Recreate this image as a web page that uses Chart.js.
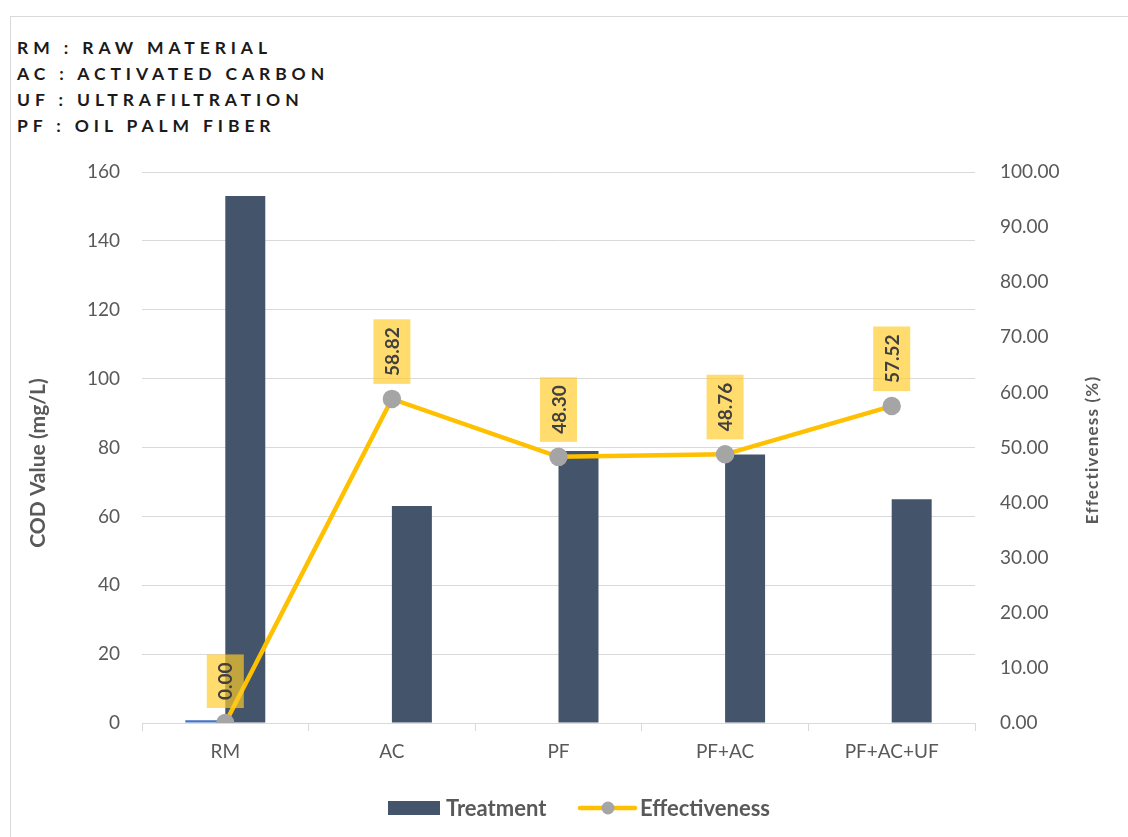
<!DOCTYPE html>
<html>
<head>
<meta charset="utf-8">
<script src="https://cdn.jsdelivr.net/npm/chart.js@4"></script>
<style>
  html, body { margin: 0; padding: 0; background: #fff; }
  #wrap { position: relative; width: 1128px; height: 837px; overflow: hidden; }
  #frame { position: absolute; left: 10px; top: 16px; width: 1200px; height: 900px; border: 1px solid #d9d9d9; }
  #notes { position: absolute; left: 17px; top: 35px; font: bold 17.5px Lato, "Open Sans", sans-serif;
           letter-spacing: 4.9px; line-height: 26px; color: #1a1a1a; }
  canvas { position: absolute; left: 0; top: 0; }
</style>
</head>
<body>
<div id="wrap">
  <div id="frame"></div>
  <div id="notes">
    <div>RM : RAW MATERIAL</div>
    <div>AC : ACTIVATED CARBON</div>
    <div>UF : ULTRAFILTRATION</div>
    <div>PF : OIL PALM FIBER</div>
  </div>
  <canvas id="chart" width="1128" height="837"></canvas>
</div>
<script>
// categories and series
const categories = ['RM', 'AC', 'PF', 'PF+AC', 'PF+AC+UF'];
const baseline = [0.8, 0, 0, 0, 0];
const treatment = [153, 63, 79, 78, 65];
const effectiveness = [0.00, 58.82, 48.30, 48.76, 57.52];

const FONT = 'Lato, "Open Sans", sans-serif';
const GREY = '#595959';

// rotated value boxes above the effectiveness points + axis titles + legend
const extras = {
  id: 'extras',
  afterDatasetsDraw(chart) {
    const ctx = chart.ctx;
    const meta = chart.getDatasetMeta(2);
    ctx.save();
    ctx.font = 'bold 19px ' + FONT;
    meta.data.forEach((pt, i) => {
      const txt = effectiveness[i].toFixed(2);
      const w = ctx.measureText(txt).width;
      const boxH = w + 16, boxW = 37;
      const bottom = pt.y - 15;
      ctx.fillStyle = 'rgba(255, 204, 40, 0.68)';
      ctx.fillRect(pt.x - boxW / 2, bottom - boxH, boxW, boxH);
      ctx.save();
      ctx.translate(pt.x, bottom - boxH / 2);
      ctx.rotate(-Math.PI / 2);
      ctx.fillStyle = '#404040';
      ctx.textAlign = 'center';
      ctx.textBaseline = 'middle';
      ctx.fillText(txt, 0, 1);
      ctx.restore();
    });
    ctx.restore();
  },
  afterDraw(chart) {
    const ctx = chart.ctx;
    ctx.save();
    ctx.textAlign = 'center';
    ctx.textBaseline = 'middle';
    // left axis title
    ctx.fillStyle = GREY;
    ctx.font = 'bold 21px ' + FONT;
    ctx.translate(38, 463);
    ctx.rotate(-Math.PI / 2);
    ctx.fillText('COD Value (mg/L)', 0, 0);
    ctx.restore();
    // right axis title
    ctx.save();
    ctx.textAlign = 'center';
    ctx.textBaseline = 'middle';
    ctx.fillStyle = GREY;
    ctx.font = 'bold 17px ' + FONT;
    ctx.letterSpacing = '1.2px';
    ctx.translate(1093, 450);
    ctx.rotate(-Math.PI / 2);
    ctx.fillText('Effectiveness (%)', 0, 0);
    ctx.restore();
    // legend
    ctx.save();
    ctx.font = 'bold 22px ' + FONT;
    ctx.textBaseline = 'middle';
    ctx.fillStyle = '#44546A';
    ctx.fillRect(388, 801, 52, 14);
    ctx.fillStyle = GREY;
    ctx.fillText('Treatment', 446, 809);
    ctx.strokeStyle = '#FFC000';
    ctx.lineWidth = 4.5;
    ctx.lineCap = 'round';
    ctx.beginPath();
    ctx.moveTo(580, 808);
    ctx.lineTo(635, 808);
    ctx.stroke();
    ctx.fillStyle = '#A5A5A5';
    ctx.beginPath();
    ctx.arc(608, 808, 6.5, 0, Math.PI * 2);
    ctx.fill();
    ctx.fillStyle = GREY;
    ctx.fillText('Effectiveness', 640, 809);
    ctx.restore();
  }
};

new Chart(document.getElementById('chart'), {
  data: {
    labels: categories,
    datasets: [
      { type: 'bar', label: 'Series1', data: baseline, backgroundColor: '#4472C4', yAxisID: 'y', order: 2 },
      { type: 'bar', label: 'Treatment', data: treatment, backgroundColor: '#44546A', yAxisID: 'y', order: 2 },
      { type: 'line', label: 'Effectiveness', data: effectiveness, yAxisID: 'y1', order: 1,
        borderColor: '#FFC000', borderWidth: 4.5, backgroundColor: '#A5A5A5',
        pointBackgroundColor: '#A5A5A5', pointBorderColor: '#A5A5A5', pointRadius: 7, tension: 0 }
    ]
  },
  options: {
    responsive: false,
    animation: false,
    layout: { padding: { top: 172, bottom: 0, left: 0, right: 0 } },
    datasets: { bar: { categoryPercentage: 0.48, barPercentage: 1 } },
    plugins: { legend: { display: false }, tooltip: { enabled: false } },
    scales: {
      x: {
        offset: true,
        grid: { offset: true, drawOnChartArea: false, color: '#d9d9d9', tickLength: 8 },
        border: { color: '#d9d9d9' },
        ticks: { color: GREY, font: { family: FONT, size: 19 }, padding: 9 },
        afterFit(s) { s.height = 114; }
      },
      y: {
        position: 'left', min: 0, max: 160,
        ticks: { stepSize: 20, color: GREY, font: { family: FONT, size: 19 }, padding: 22 },
        grid: { color: '#d9d9d9', drawTicks: false },
        border: { display: false },
        afterFit(s) { s.width = 142; }
      },
      y1: {
        position: 'right', min: 0, max: 100,
        ticks: { stepSize: 10, color: GREY, font: { family: FONT, size: 19 }, padding: 25,
                 callback: v => v.toFixed(2) },
        grid: { drawOnChartArea: false, drawTicks: false },
        border: { display: false },
        afterFit(s) { s.width = 153; }
      }
    }
  },
  plugins: [extras]
});
</script>
</body>
</html>
